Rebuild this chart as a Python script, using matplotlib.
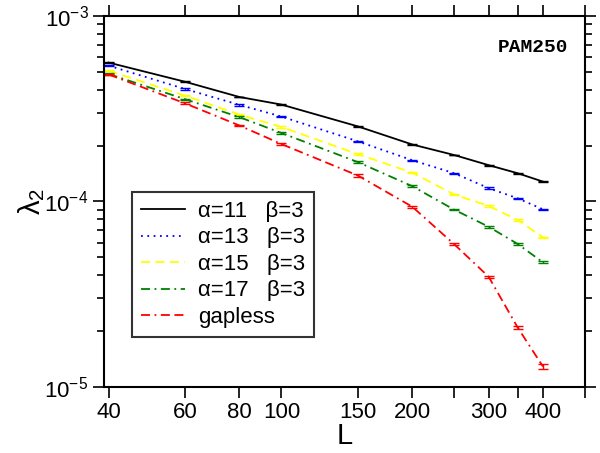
import numpy as np
import matplotlib
matplotlib.use('Agg')
import matplotlib.pyplot as plt
from matplotlib.ticker import FixedLocator, NullFormatter, LogLocator, LogFormatterMathtext

plt.rcParams['font.family'] = ['Liberation Sans', 'DejaVu Sans']
plt.rcParams['mathtext.fontset'] = 'custom'
plt.rcParams['mathtext.rm'] = 'Liberation Sans'

# system sizes
L = [40, 60, 80, 100, 150, 200, 250, 300, 350, 400]

# lambda_2
lam_a11 = [5.61e-4, 4.42e-4, 3.66e-4, 3.33e-4, 2.54e-4, 2.03e-4, 1.78e-4, 1.57e-4, 1.42e-4, 1.28e-4]
lam_a13 = [5.40e-4, 4.04e-4, 3.32e-4, 2.87e-4, 2.11e-4, 1.67e-4, 1.42e-4, 1.18e-4, 1.04e-4, 9.08e-5]
lam_a15 = [5.07e-4, 3.72e-4, 2.94e-4, 2.52e-4, 1.80e-4, 1.43e-4, 1.09e-4, 9.46e-5, 7.95e-5, 6.41e-5]
lam_a17 = [4.87e-4, 3.56e-4, 2.85e-4, 2.34e-4, 1.63e-4, 1.21e-4, 9.03e-5, 7.31e-5, 5.90e-5, 4.70e-5]
lam_gapless = [4.84e-4, 3.38e-4, 2.57e-4, 2.04e-4, 1.38e-4, 9.38e-5, 5.88e-5, 3.93e-5, 2.09e-5, 1.29e-5]

# error bars (estimated, mostly smaller than the caps)
err_a11 = [4e-6, 3e-6, 2e-6, 2e-6, 1.5e-6, 1e-6, 1e-6, 1e-6, 1e-6, 8e-7]
err_a13 = [5e-6, 3e-6, 3e-6, 2e-6, 1.5e-6, 1e-6, 1e-6, 1e-6, 1e-6, 8e-7]
err_a15 = [4e-6, 3e-6, 2e-6, 2e-6, 1.5e-6, 1e-6, 1e-6, 8e-7, 7e-7, 6e-7]
err_a17 = [4e-6, 3e-6, 3e-6, 2e-6, 1.5e-6, 1e-6, 8e-7, 7e-7, 6e-7, 5e-7]
err_gapless = [5e-6, 4e-6, 3e-6, 2e-6, 2e-6, 1e-6, 8e-7, 6e-7, 4e-7, 4e-7]

labels = ['α=11   β=3', 'α=13   β=3', 'α=15   β=3', 'α=17   β=3', 'gapless']

x_major = [40, 60, 80, 100, 150, 200, 300, 400]
x_extra = [250, 350, 500]

fig = plt.figure(figsize=(6.0, 4.53), dpi=100)
ax = fig.add_axes([0.173, 0.1457, 0.802, 0.819])

series = [
    (lam_a11, err_a11, 'black', '-'),
    (lam_a13, err_a13, 'blue', (0, (1, 2.5))),
    (lam_a15, err_a15, '#ffff00', (0, (5, 3))),
    (lam_a17, err_a17, 'green', (0, (5, 2.5, 1, 2.5))),
    (lam_gapless, err_gapless, 'red', (0, (5, 2.5, 1, 2.5, 5, 2.5))),
]
for (vals, err, col, ls), lab in zip(series, labels):
    ax.errorbar(L, vals, yerr=err, fmt='none', ecolor=col, capsize=3.5,
                capthick=1.0, elinewidth=1.0)
    ax.plot(L, vals, color=col, linestyle=ls, linewidth=1.3, label=lab)

ax.set_xscale('log')
ax.set_yscale('log')
ax.set_xlim(39, 500)
ax.set_ylim(1e-5, 1e-3)

ax.set_xticks(x_major + x_extra)
ax.set_xticklabels([str(v) for v in x_major] + ['' for v in x_extra])
ax.xaxis.set_minor_locator(FixedLocator([]))
ax.yaxis.set_major_locator(LogLocator(base=10))
ax.yaxis.set_major_formatter(LogFormatterMathtext())
ax.yaxis.set_minor_locator(LogLocator(base=10, subs=np.arange(2, 10)))
ax.yaxis.set_minor_formatter(NullFormatter())

ax.tick_params(which='both', direction='out', top=True, right=True, labelsize=16,
               width=1.2, pad=3)
ax.tick_params(which='major', length=8)
ax.tick_params(which='minor', length=5)
for s in ax.spines.values():
    s.set_linewidth(1.5)

ax.set_xlabel('L', fontsize=21, labelpad=-1)
ax.set_ylabel('λ$_2$', fontsize=21, labelpad=-2)

ax.text(0.965, 0.915, 'PAM250', transform=ax.transAxes, ha='right', va='center',
        fontsize=14, fontweight='bold', family='Liberation Mono')

leg = ax.legend(loc='lower left', bbox_to_anchor=(0.058, 0.135), fontsize=16,
                frameon=True, fancybox=False, edgecolor='black', handlelength=2.0,
                handletextpad=0.6, borderpad=0.4, labelspacing=0.25,
                borderaxespad=0)
leg.get_frame().set_linewidth(1.5)

fig.savefig('out.png', dpi=100)
